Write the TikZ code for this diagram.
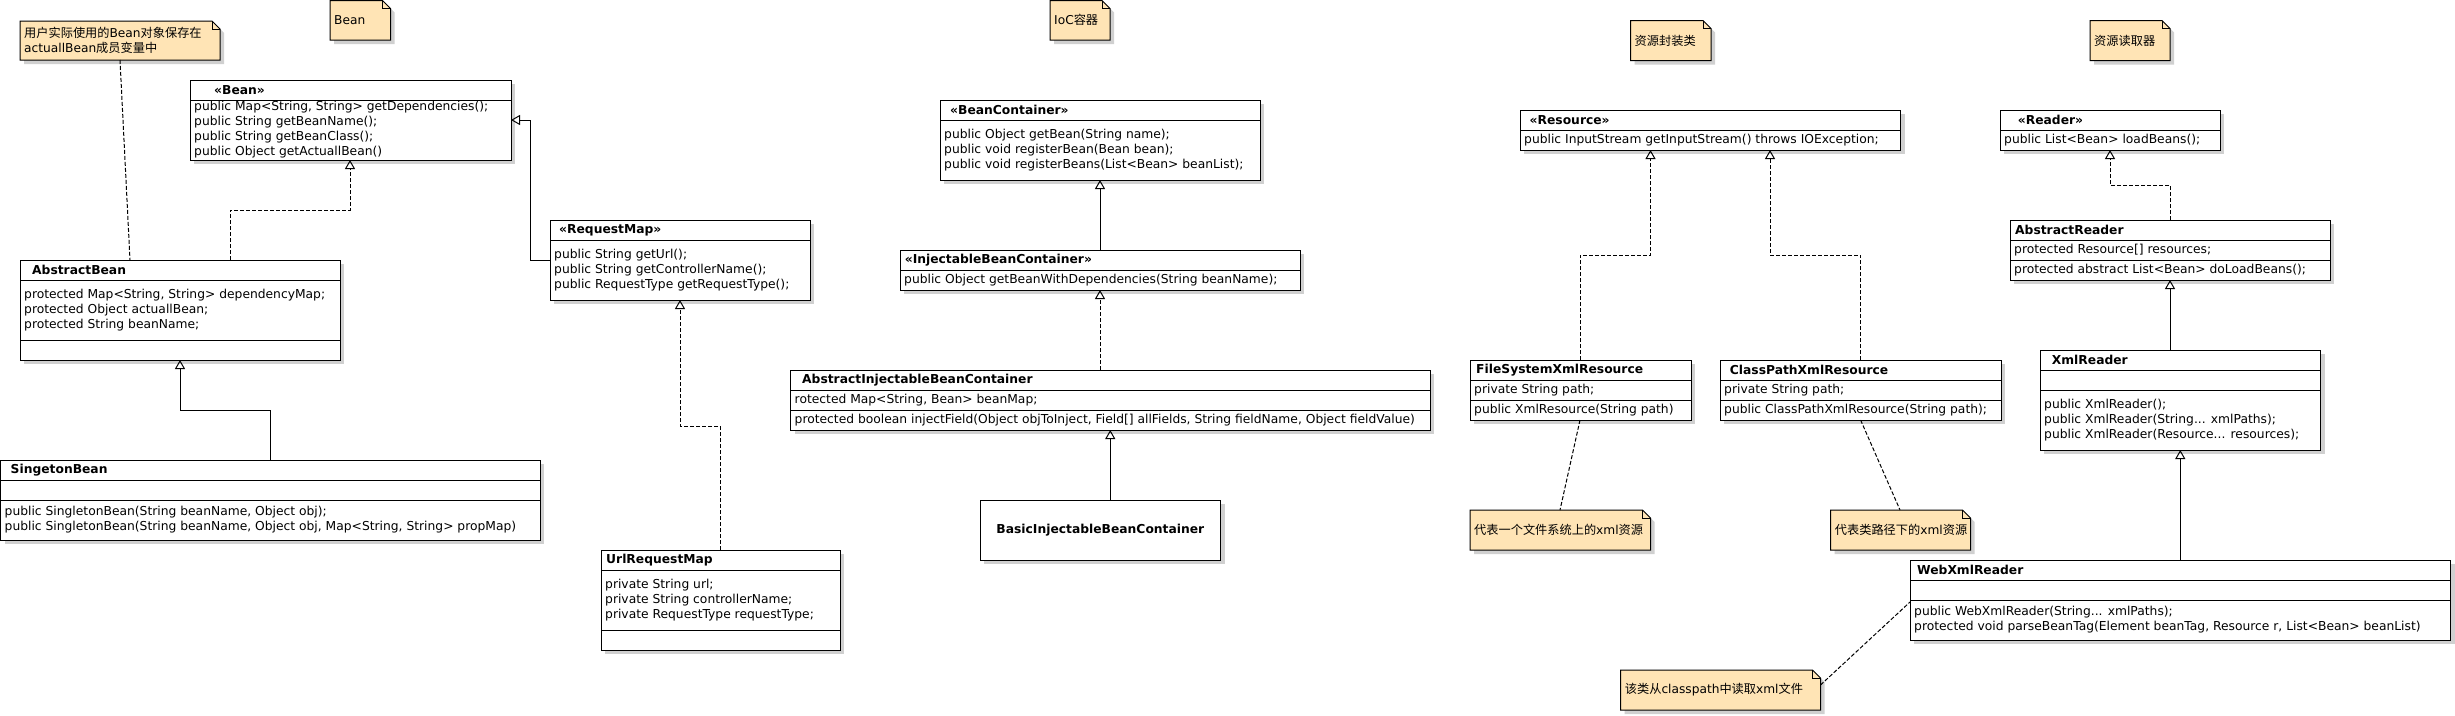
\documentclass[tikz,border=0pt]{standalone}
\usepackage{fontspec}
\setmainfont{DejaVu Sans}
\newfontfamily\cjk{Noto Sans CJK SC}
\usetikzlibrary{arrows.meta,shadows}
\definecolor{notefill}{HTML}{FFE4B5}
\definecolor{shadowcol}{HTML}{D0D0D0}
\newcommand\umlnote[6]{%
  \node[notearea, minimum width=#4pt, minimum height=#5pt] (#1) at (#2,#3) {};
  \fill[shadowcol] ([shift={(4pt,-4pt)}]#1.north west) -- ([shift={(-4pt,-4pt)}]#1.north east) -- ([shift={(4pt,-12pt)}]#1.north east) -- ([shift={(4pt,-4pt)}]#1.south east) -- ([shift={(4pt,-4pt)}]#1.south west) -- cycle;
  \draw[notebody] (#1.north west) -- ([xshift=-8pt]#1.north east) -- ([yshift=-8pt]#1.north east) -- (#1.south east) -- (#1.south west) -- cycle;
  \draw[sep] ([xshift=-8pt]#1.north east) -- ([shift={(-8pt,-8pt)}]#1.north east) -- ([yshift=-8pt]#1.north east);
  \node[notetext] (#1-t) at ([xshift=4pt]#1.west) {#6};
}
\begin{document}
\begin{tikzpicture}[x=1pt,y=-1pt,
  box/.style={draw, line width=1pt, fill=white, inner sep=0pt, outer sep=0pt, anchor=north west,
    drop shadow={shadow xshift=4pt, shadow yshift=-4pt, fill=shadowcol, opacity=1}},
  sep/.style={line width=1pt},
  title/.style={font=\bfseries\fontsize{12.3}{15}\selectfont, inner sep=0pt, anchor=west},
  member/.style={font=\fontsize{12.3}{15}\selectfont, inner sep=0pt, anchor=west, align=left},
  notearea/.style={inner sep=0pt, outer sep=0pt, anchor=north west},
  notebody/.style={draw, line width=1pt, fill=notefill},
  notetext/.style={font=\fontsize{12.2}{15}\selectfont, inner sep=0pt, anchor=west, align=left},
  gen/.style={line width=1pt, -{Triangle[open, length=9pt, width=10pt]}},
  real/.style={gen, dash pattern=on 4pt off 2pt},
  notelink/.style={line width=1pt, dash pattern=on 4pt off 2pt}
]
\useasboundingbox (0,0) rectangle (2455,715);
\fill[white] (0,0) rectangle (2455,715);

% ---------- notes ----------
\umlnote{n1}{20}{21}{200}{39}{{\cjk 用户实际使用的}Bean{\cjk 对象保存在}\\actuallBean{\cjk 成员变量中}}
\umlnote{n2}{330}{0.5}{60.5}{39.5}{Bean}
\umlnote{n3}{1050}{0.5}{60}{39.5}{IoC{\cjk 容器}}
\umlnote{n4}{1630.5}{20.5}{80.5}{40}{{\cjk 资源封装类}}
\umlnote{n5}{2090}{20.5}{80}{40}{{\cjk 资源读取器}}
\umlnote{n6}{1470}{510}{180.5}{40}{{\cjk 代表一个文件系统上的}xml{\cjk 资源}}
\umlnote{n7}{1830.7}{510}{139.8}{40}{{\cjk 代表类路径下的}xml{\cjk 资源}}
\umlnote{n8}{1620.7}{670}{199.8}{40}{{\cjk 该类从}classpath{\cjk 中读取}xml{\cjk 文件}}

% ---------- Bean ----------
\node[box, minimum width=321pt, minimum height=80pt] (bean) at (190,80) {};
\draw[sep] ([yshift=-20pt]bean.north west) -- ([yshift=-20pt]bean.north east);
\node[title] (bean-t) at ([shift={(24pt,-10pt)}]bean.north west) {«Bean»};
\node[member] (bean-m) at ([shift={(4pt,-50pt)}]bean.north west) {public Map<String, String> getDependencies();\\public String getBeanName();\\public String getBeanClass();\\public Object getActuallBean()};

% ---------- AbstractBean ----------
\node[box, minimum width=320pt, minimum height=100pt] (absbean) at (20,260) {};
\draw[sep] ([yshift=-20pt]absbean.north west) -- ([yshift=-20pt]absbean.north east);
\draw[sep] ([yshift=-80pt]absbean.north west) -- ([yshift=-80pt]absbean.north east);
\node[title] (absbean-t) at ([shift={(12pt,-10pt)}]absbean.north west) {AbstractBean};
\node[member] (absbean-a) at ([shift={(4pt,-50pt)}]absbean.north west) {protected Map<String, String> dependencyMap;\\protected Object actuallBean;\\protected String beanName;};

% ---------- SingetonBean ----------
\node[box, minimum width=539.5pt, minimum height=80pt] (singleton) at (0.5,460) {};
\draw[sep] ([yshift=-20pt]singleton.north west) -- ([yshift=-20pt]singleton.north east);
\draw[sep] ([yshift=-40pt]singleton.north west) -- ([yshift=-40pt]singleton.north east);
\node[title] (singleton-t) at ([shift={(10pt,-10pt)}]singleton.north west) {SingetonBean};
\node[member] (singleton-m) at ([shift={(4pt,-60pt)}]singleton.north west) {public SingletonBean(String beanName, Object obj);\\public SingletonBean(String beanName, Object obj, Map<String, String> propMap)};

% ---------- RequestMap ----------
\node[box, minimum width=260pt, minimum height=80pt] (reqmap) at (550,220) {};
\draw[sep] ([yshift=-20pt]reqmap.north west) -- ([yshift=-20pt]reqmap.north east);
\node[title] (reqmap-t) at ([shift={(9pt,-10pt)}]reqmap.north west) {«RequestMap»};
\node[member] (reqmap-m) at ([shift={(4pt,-50pt)}]reqmap.north west) {public String getUrl();\\public String getControllerName();\\public RequestType getRequestType();};

% ---------- UrlRequestMap ----------
\node[box, minimum width=239pt, minimum height=100pt] (urlreq) at (601,550) {};
\draw[sep] ([yshift=-20pt]urlreq.north west) -- ([yshift=-20pt]urlreq.north east);
\draw[sep] ([yshift=-80pt]urlreq.north west) -- ([yshift=-80pt]urlreq.north east);
\node[title] (urlreq-t) at ([shift={(5pt,-10pt)}]urlreq.north west) {UrlRequestMap};
\node[member] (urlreq-a) at ([shift={(4pt,-50pt)}]urlreq.north west) {private String url;\\private String controllerName;\\private RequestType requestType;};

% ---------- BeanContainer ----------
\node[box, minimum width=320pt, minimum height=80pt] (beancont) at (940,100) {};
\draw[sep] ([yshift=-20pt]beancont.north west) -- ([yshift=-20pt]beancont.north east);
\node[title] (beancont-t) at ([shift={(10pt,-10pt)}]beancont.north west) {«BeanContainer»};
\node[member] (beancont-m) at ([shift={(4pt,-50pt)}]beancont.north west) {public Object getBean(String name);\\public void registerBean(Bean bean);\\public void registerBeans(List<Bean> beanList);};

% ---------- InjectableBeanContainer ----------
\node[box, minimum width=400pt, minimum height=40pt] (injcont) at (900,250) {};
\draw[sep] ([yshift=-20pt]injcont.north west) -- ([yshift=-20pt]injcont.north east);
\node[title] (injcont-t) at ([shift={(4.6pt,-10pt)}]injcont.north west) {«InjectableBeanContainer»};
\node[member] (injcont-m) at ([shift={(4pt,-30pt)}]injcont.north west) {public Object getBeanWithDependencies(String beanName);};

% ---------- AbstractInjectableBeanContainer ----------
\node[box, minimum width=639.5pt, minimum height=60pt] (absinj) at (790.5,370) {};
\draw[sep] ([yshift=-20pt]absinj.north west) -- ([yshift=-20pt]absinj.north east);
\draw[sep] ([yshift=-40pt]absinj.north west) -- ([yshift=-40pt]absinj.north east);
\node[title] (absinj-t) at ([shift={(11.5pt,-10pt)}]absinj.north west) {AbstractInjectableBeanContainer};
\node[member] (absinj-a) at ([shift={(4pt,-30pt)}]absinj.north west) {rotected Map<String, Bean> beanMap;};
\node[member] (absinj-m) at ([shift={(4pt,-50pt)}]absinj.north west) {protected boolean injectField(Object objToInject, Field[] allFields, String fieldName, Object fieldValue)};

% ---------- BasicInjectableBeanContainer ----------
\node[box, minimum width=240.7pt, minimum height=60pt] (basic) at (980,500) {};
\node[title, anchor=center] (basic-t) at (basic.center) {BasicInjectableBeanContainer};

% ---------- Resource ----------
\node[box, minimum width=380.6pt, minimum height=40pt] (resource) at (1520,110) {};
\draw[sep] ([yshift=-20pt]resource.north west) -- ([yshift=-20pt]resource.north east);
\node[title] (resource-t) at ([shift={(9.5pt,-10pt)}]resource.north west) {«Resource»};
\node[member] (resource-m) at ([shift={(4pt,-30pt)}]resource.north west) {public InputStream getInputStream() throws IOException;};

% ---------- FileSystemXmlResource ----------
\node[box, minimum width=221pt, minimum height=60pt] (fsres) at (1470,360) {};
\draw[sep] ([yshift=-20pt]fsres.north west) -- ([yshift=-20pt]fsres.north east);
\draw[sep] ([yshift=-40pt]fsres.north west) -- ([yshift=-40pt]fsres.north east);
\node[title] (fsres-t) at ([shift={(6pt,-10pt)}]fsres.north west) {FileSystemXmlResource};
\node[member] (fsres-a) at ([shift={(4pt,-30pt)}]fsres.north west) {private String path;};
\node[member] (fsres-m) at ([shift={(4pt,-50pt)}]fsres.north west) {public XmlResource(String path)};

% ---------- ClassPathXmlResource ----------
\node[box, minimum width=281pt, minimum height=60pt] (cpres) at (1720,360) {};
\draw[sep] ([yshift=-20pt]cpres.north west) -- ([yshift=-20pt]cpres.north east);
\draw[sep] ([yshift=-40pt]cpres.north west) -- ([yshift=-40pt]cpres.north east);
\node[title] (cpres-t) at ([shift={(9.7pt,-10pt)}]cpres.north west) {ClassPathXmlResource};
\node[member] (cpres-a) at ([shift={(4pt,-30pt)}]cpres.north west) {private String path;};
\node[member] (cpres-m) at ([shift={(4pt,-50pt)}]cpres.north west) {public ClassPathXmlResource(String path);};

% ---------- Reader ----------
\node[box, minimum width=220pt, minimum height=40pt] (reader) at (2000,110) {};
\draw[sep] ([yshift=-20pt]reader.north west) -- ([yshift=-20pt]reader.north east);
\node[title] (reader-t) at ([shift={(17.7pt,-10pt)}]reader.north west) {«Reader»};
\node[member] (reader-m) at ([shift={(4pt,-30pt)}]reader.north west) {public List<Bean> loadBeans();};

% ---------- AbstractReader ----------
\node[box, minimum width=320pt, minimum height=60pt] (absreader) at (2010,220) {};
\draw[sep] ([yshift=-20pt]absreader.north west) -- ([yshift=-20pt]absreader.north east);
\draw[sep] ([yshift=-40pt]absreader.north west) -- ([yshift=-40pt]absreader.north east);
\node[title] (absreader-t) at ([shift={(5pt,-10pt)}]absreader.north west) {AbstractReader};
\node[member] (absreader-a) at ([shift={(4pt,-30pt)}]absreader.north west) {protected Resource[] resources;};
\node[member] (absreader-m) at ([shift={(4pt,-50pt)}]absreader.north west) {protected abstract List<Bean> doLoadBeans();};

% ---------- XmlReader ----------
\node[box, minimum width=280.5pt, minimum height=100pt] (xmlreader) at (2040,350) {};
\draw[sep] ([yshift=-20pt]xmlreader.north west) -- ([yshift=-20pt]xmlreader.north east);
\draw[sep] ([yshift=-40pt]xmlreader.north west) -- ([yshift=-40pt]xmlreader.north east);
\node[title] (xmlreader-t) at ([shift={(11.7pt,-10pt)}]xmlreader.north west) {XmlReader};
\node[member] (xmlreader-m) at ([shift={(4pt,-70pt)}]xmlreader.north west) {public XmlReader();\\public XmlReader(String... xmlPaths);\\public XmlReader(Resource... resources);};

% ---------- WebXmlReader ----------
\node[box, minimum width=540.5pt, minimum height=80pt] (webreader) at (1910,560) {};
\draw[sep] ([yshift=-20pt]webreader.north west) -- ([yshift=-20pt]webreader.north east);
\draw[sep] ([yshift=-40pt]webreader.north west) -- ([yshift=-40pt]webreader.north east);
\node[title] (webreader-t) at ([shift={(7pt,-10pt)}]webreader.north west) {WebXmlReader};
\node[member] (webreader-m) at ([shift={(4pt,-60pt)}]webreader.north west) {public WebXmlReader(String... xmlPaths);\\protected void parseBeanTag(Element beanTag, Resource r, List<Bean> beanList)};

% ---------- connectors ----------
\draw[notelink] ([xshift=100pt]n1.south west) -- ([xshift=110pt]absbean.north west);
\draw[real] ([xshift=210pt]absbean.north west) -- ++(0,-50) -| ([xshift=160pt]bean.south west);
\draw[gen] ([xshift=270pt]singleton.north west) -- ++(0,-50) -| ([xshift=160pt]absbean.south west);
\draw[gen] ([yshift=-40pt]reqmap.north west) -- ++(-20,0) |- ([yshift=-40pt]bean.north east);
\draw[real] ([xshift=119pt]urlreq.north west) -- ++(0,-124) -| ([xshift=130pt]reqmap.south west);
\draw[gen] (injcont.north) -- (beancont.south);
\draw[real] (injcont.south |- absinj.north) -- (injcont.south);
\draw[gen] (basic.north -| absinj.south) -- (absinj.south);
\draw[real] ([xshift=110pt]fsres.north west) -- ++(0,-105) -| ([xshift=130.5pt]resource.south west);
\draw[real] ([xshift=140.6pt]cpres.north west) -- ++(0,-105) -| ([xshift=250pt]resource.south west);
\draw[notelink] ([xshift=110pt]fsres.south west) -- ([xshift=90pt]n6.north west);
\draw[notelink] ([xshift=140.6pt]cpres.south west) -- ([xshift=69.3pt]n7.north west);
\draw[real] ([xshift=160pt]absreader.north west) -- ++(0,-35) -| (reader.south);
\draw[gen] (absreader.south |- xmlreader.north) -- (absreader.south);
\draw[gen] (webreader.north) -- (xmlreader.south);
\draw[notelink] ([yshift=-15pt]n8.north east) -- ([yshift=-42pt]webreader.north west);
\end{tikzpicture}
\end{document}
